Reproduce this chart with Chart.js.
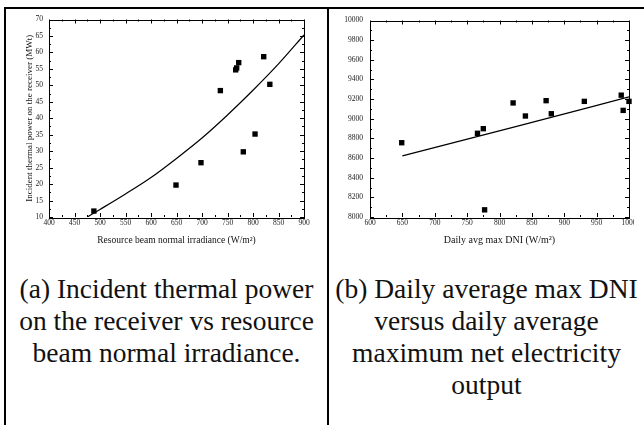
<!DOCTYPE html>
<html>
<head>
<meta charset="utf-8">
<script src="https://cdn.jsdelivr.net/npm/chart.js@4/dist/chart.umd.min.js"></script>
<style>
  body { margin: 0; width: 644px; height: 425px; overflow: hidden; background: #fff; position: relative; }
  .rule { position: absolute; background: #000; }
  .caption { position: absolute; top: 273px; font-family: 'Liberation Serif', 'Times New Roman', serif; font-size: 27.5px; line-height: 32px; text-align: center; color: #111; white-space: nowrap; }
</style>
</head>
<body>
<div class="rule" style="left:4px; top:7px; width:640px; height:2px"></div>
<div class="rule" style="left:4px; top:7px; width:2px; height:418px"></div>
<div class="rule" style="left:327px; top:7px; width:2px; height:418px"></div>

<canvas id="left" width="321" height="241" style="position:absolute; left:6px; top:9px"></canvas>
<div style="position:absolute; left:329px; top:9px; width:305px; height:241px; overflow:hidden">
  <canvas id="right" width="360" height="241" style="position:absolute; left:0; top:0"></canvas>
</div>

<div class="caption" style="left:6px; width:321px">(a) Incident thermal power<br>on the receiver vs resource<br>beam normal irradiance.</div>
<div class="caption" style="left:329px; width:315px">(b) Daily average max DNI<br>versus daily average<br>maximum net electricity<br>output</div>

<script>
// (a) incident thermal power vs beam normal irradiance
const powerDni = [488, 649, 698, 736, 766, 768, 772, 781, 804, 821, 833]
const powerMw = [11.8, 19.7, 26.5, 48.4, 54.7, 55.3, 56.9, 29.8, 35.2, 58.7, 50.3]
const powerFitDni = [475, 500, 550, 600, 650, 700, 750, 800, 850, 900]
const powerFitMw = [10, 12.3, 17, 22, 27.8, 34, 41, 48.5, 56.5, 65.3]

// (b) daily avg max DNI vs net electricity output
const dniX = [649, 766, 775, 777, 821, 840, 872, 880, 931, 988, 991, 1000]
const elecY = [8756, 8852, 8899, 8073, 9161, 9028, 9184, 9051, 9177, 9240, 9085, 9177]
const elecFitX = [650, 825, 1000]
const elecFitY = [8622, 8920, 9222]

const serif = 'Liberation Serif'

// box frame with inward major + minor ticks on all four sides
const frameTicks = {
  id: 'frameTicks',
  beforeDatasetsDraw (chart) {
    const { ctx, chartArea: a, scales: { x, y } } = chart
    ctx.save()
    ctx.strokeStyle = '#000'
    ctx.lineWidth = 1
    ctx.strokeRect(Math.round(a.left) + 0.5, Math.round(a.top) + 0.5, Math.round(a.right - a.left), Math.round(a.bottom - a.top))
    ctx.beginPath()
    x.ticks.forEach((t, i) => {
      const px = Math.round(x.getPixelForValue(t.value)) + 0.5
      ctx.moveTo(px, a.bottom); ctx.lineTo(px, a.bottom - 4)
      ctx.moveTo(px, a.top); ctx.lineTo(px, a.top + 4)
      if (i < x.ticks.length - 1) {
        const mx = Math.round(x.getPixelForValue((t.value + x.ticks[i + 1].value) / 2)) + 0.5
        ctx.moveTo(mx, a.bottom); ctx.lineTo(mx, a.bottom - 2)
        ctx.moveTo(mx, a.top); ctx.lineTo(mx, a.top + 2)
      }
    })
    y.ticks.forEach((t, i) => {
      const py = Math.round(y.getPixelForValue(t.value)) + 0.5
      ctx.moveTo(a.left, py); ctx.lineTo(a.left + 4, py)
      ctx.moveTo(a.right, py); ctx.lineTo(a.right - 4, py)
      if (i < y.ticks.length - 1) {
        const my = Math.round(y.getPixelForValue((t.value + y.ticks[i + 1].value) / 2)) + 0.5
        ctx.moveTo(a.left, my); ctx.lineTo(a.left + 2, my)
        ctx.moveTo(a.right, my); ctx.lineTo(a.right - 2, my)
      }
    })
    ctx.stroke()
    ctx.restore()
  }
}

function makeChart (id, opts) {
  return new Chart(document.getElementById(id), {
    type: 'scatter',
    data: {
      datasets: [
        {
          data: opts.xs.map((v, i) => ({ x: v, y: opts.ys[i] })),
          pointStyle: 'rect',
          pointRadius: 3.8,
          backgroundColor: '#000',
          borderWidth: 0,
          clip: false
        },
        {
          data: opts.fitX.map((v, i) => ({ x: v, y: opts.fitY[i] })),
          showLine: true,
          pointRadius: 0,
          borderColor: '#000',
          borderWidth: 1.2,
          cubicInterpolationMode: 'monotone'
        }
      ]
    },
    options: {
      responsive: false,
      animation: false,
      layout: { padding: { left: 0, top: 7, right: opts.padRight, bottom: 0 } },
      plugins: { legend: { display: false }, tooltip: { enabled: false } },
      scales: {
        x: {
          min: opts.xMin,
          max: opts.xMax,
          grid: { display: false, drawTicks: false },
          border: { display: false },
          ticks: { stepSize: 50, padding: 2, color: '#222', font: { family: serif, size: 7.5 }, maxRotation: 0, callback: (v) => String(v) },
          title: { display: true, text: opts.xTitle, color: '#111', font: { family: serif, size: opts.xTitleSize }, padding: { top: 0, bottom: 3.5 } },
          afterFit: (s) => { s.height = 33 }
        },
        y: {
          min: opts.yMin,
          max: opts.yMax,
          grid: { display: false, drawTicks: false },
          border: { display: false },
          ticks: { stepSize: opts.yStep, padding: opts.yPad, color: '#222', font: { family: serif, size: 7.5 }, callback: (v) => String(v) },
          title: { display: !!opts.yTitle, text: opts.yTitle || '', color: '#111', font: { family: serif, size: 9 }, padding: { top: 18, bottom: 0 } },
          afterFit: (s) => { s.width = opts.yWidth }
        }
      }
    },
    plugins: [frameTicks]
  })
}

makeChart('left', {
  xs: powerDni, ys: powerMw, fitX: powerFitDni, fitY: powerFitMw,
  xMin: 400, xMax: 900, yMin: 10, yMax: 70, yStep: 5,
  xTitle: 'Resource beam normal irradiance (W/m²)', xTitleSize: 9.5,
  yTitle: 'Incident thermal power on the receiver (MWt)',
  yWidth: 43, yPad: 6, padRight: 23
})

makeChart('right', {
  xs: dniX, ys: elecY, fitX: elecFitX, fitY: elecFitY,
  xMin: 600, xMax: 1000, yMin: 8000, yMax: 10000, yStep: 200,
  xTitle: 'Daily avg max DNI (W/m²)', xTitleSize: 10,
  yWidth: 41, yPad: 7, padRight: 60
})
</script>
</body>
</html>
